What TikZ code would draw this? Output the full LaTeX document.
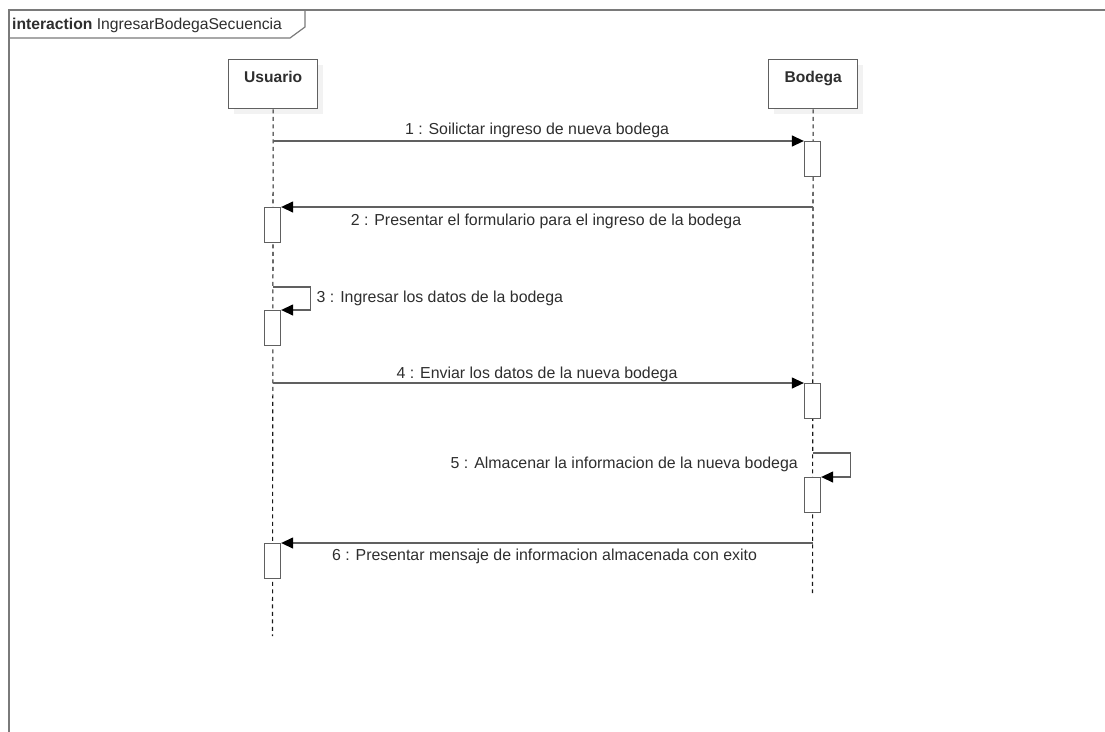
\documentclass[tikz,border=0pt]{standalone}
\usepackage{fontspec}
\setmainfont{Liberation Sans}
\usetikzlibrary{arrows.meta,calc}
\definecolor{ln}{HTML}{606060}
\definecolor{tx}{HTML}{2E2E2E}
\definecolor{fr}{HTML}{7A7A7A}
\begin{document}
\begin{tikzpicture}[x=1pt,y=-1pt,
  head/.style={draw=ln, line width=1.3pt, fill=white, minimum width=89pt, minimum height=49pt, anchor=north west, inner sep=0pt},
  headtxt/.style={font=\bfseries\fontsize{15.6}{18}\selectfont, text=tx, inner sep=0pt, anchor=base},
  shadowbox/.style={fill=black!5, draw=none, minimum width=89pt, minimum height=49pt, anchor=north west, inner sep=0pt},
  act/.style={draw=ln, line width=1.3pt, fill=white, minimum width=16pt, minimum height=35pt, anchor=north, inner sep=0pt},
  life/.style={draw=black!90, line width=1.1pt, dash pattern=on 4pt off 3.5pt},
  msg/.style={draw=ln, line width=1.3pt, -{Triangle[length=12pt,width=11pt,color=black,fill=black]}},
  lbl/.style={font=\fontsize{15.9}{18}\selectfont, text=tx, inner sep=0pt, anchor=base},
  frame/.style={draw=fr, line width=1.2pt}]
\useasboundingbox (0,0) rectangle (1105,731);
% frame
\draw[frame] (9,745) -- (9,10) -- (1120,10);
\draw[frame] (9,38) -- (290,38) -- (305,27) -- (305,10);
\node[anchor=base west, inner sep=0pt, text=tx, font=\fontsize{15.7}{18}\selectfont] (title) at (12,29.5) {\textbf{interaction} IngresarBodegaSecuencia};
% shadows
\node[shadowbox] (us) at (234,65) {};
\node[shadowbox] (bs) at (774,65) {};
% lifelines
\coordinate (uend) at (272.5,636);
\coordinate (bend) at (812.5,593);
\node[head] (u) at (228,59) {};
\node[head] (b) at (768,59) {};
\draw[life] (u.south) -- (uend);
\draw[life] (b.south) -- (bend);
\node[headtxt] (ut) at ($(u.north)+(0,23)$) {Usuario};
\node[headtxt] (bt) at ($(b.north)+(0,23)$) {Bodega};
% activations
\node[act] (a1) at (812.5,141) {};
\node[act] (a2) at (272.5,207) {};
\node[act] (a3) at (272.5,310) {};
\node[act] (a4) at (812.5,383) {};
\node[act] (a5) at (812.5,477) {};
\node[act] (a6) at (272.5,543) {};
% messages
\draw[msg] (u.south |- a1.north) -- (a1.north west);
\node[lbl] (l1) at (537,134) {1 : Soilictar ingreso de nueva bodega};
\draw[msg] (b.south |- a2.north) -- (a2.north east);
\node[lbl] (l2) at (546,225.5) {2 : Presentar el formulario para el ingreso de la bodega};
\draw[msg] ($(u.south |- a3.north)+(0,-23)$) -| ($(a3.north east)+(29,0)$) -- (a3.north east);
\node[lbl, anchor=base west] (l3) at (316.5,302.5) {3 : Ingresar los datos de la bodega};
\draw[msg] (u.south |- a4.north) -- (a4.north west);
\node[lbl] (l4) at (537,378.5) {4 : Enviar los datos de la nueva bodega};
\draw[msg] ($(b.south |- a5.north)+(0,-24)$) -| ($(a5.north east)+(29,0)$) -- (a5.north east);
\node[lbl, anchor=base east] (l5) at (798,468.5) {5 : Almacenar la informacion de la nueva bodega};
\draw[msg] (b.south |- a6.north) -- (a6.north east);
\node[lbl] (l6) at (544.5,560.5) {6 : Presentar mensaje de informacion almacenada con exito};
\end{tikzpicture}
\end{document}
